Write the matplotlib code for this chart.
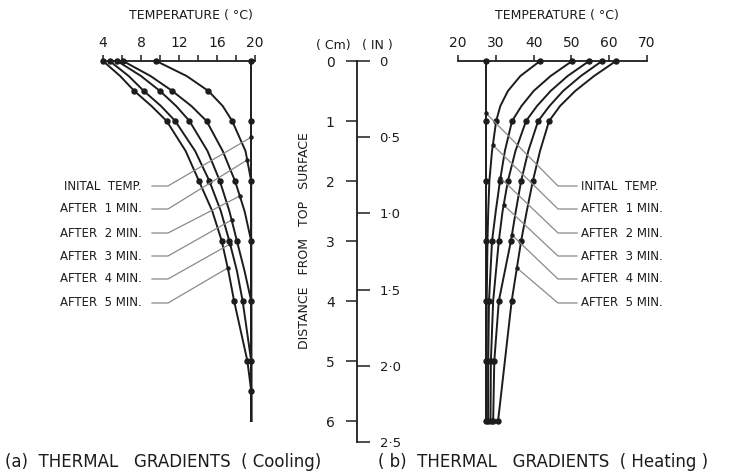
import numpy as np
import matplotlib
matplotlib.use("Agg")
from matplotlib import pyplot as plt
from matplotlib.lines import Line2D

W, H = 734, 476

# (a) cooling: depth (cm) vs temperature (deg C)
cool_depth = [0, 0.25, 0.5, 0.75, 1, 1.5, 2, 2.5, 3, 3.5, 4, 5, 5.5, 6]
cool_initial = 19.6
cool_after1 = [9.6, 12.8, 15.1, 16.6, 17.6, 19.0, 19.6, 19.6, 19.6, 19.6, 19.6, 19.6, 19.6, 19.6]
cool_after2 = [6.1, 9.0, 11.3, 13.3, 14.9, 16.6, 17.9, 18.9, 19.6, 19.6, 19.6, 19.6, 19.6, 19.6]
cool_after3 = [5.5, 8.0, 10.0, 11.7, 13.1, 15.0, 16.3, 17.3, 18.1, 18.9, 19.6, 19.6, 19.6, 19.6]
cool_after4 = [4.7, 6.7, 8.3, 10.1, 11.6, 13.7, 15.2, 16.4, 17.3, 18.1, 18.7, 19.6, 19.6, 19.6]
cool_after5 = [4.0, 5.8, 7.3, 9.1, 10.7, 12.7, 14.1, 15.5, 16.5, 17.2, 17.8, 19.2, 19.6, 19.6]
cool_mark_depth = [0, 0.5, 1, 2, 3, 4, 5, 5.5]
cool_mark_temp = [
    [4.0, 4.7, 5.5, 6.1, 9.6, 19.6],
    [7.3, 8.3, 10.0, 11.3, 15.1],
    [10.7, 11.6, 13.1, 14.9, 17.6, 19.6],
    [14.1, 15.2, 16.3, 17.9, 19.6],
    [16.5, 17.3, 18.1, 19.6],
    [17.8, 18.7, 19.6],
    [19.2, 19.6],
    [19.6],
]

# (b) heating
heat_depth = [0, 0.25, 0.5, 0.75, 1, 1.5, 2, 2.5, 3, 4, 5, 6]
heat_initial = 27.4
heat_after1 = [41.7, 36.5, 33.2, 31.2, 30.1, 29.0, 28.3, 28.0, 27.8, 27.6, 27.6, 27.6]
heat_after2 = [50.2, 44.5, 40.0, 36.8, 34.3, 32.4, 31.1, 30.0, 29.0, 28.2, 28.0, 28.0]
heat_after3 = [54.7, 49.0, 44.5, 40.9, 38.0, 35.2, 33.2, 31.8, 30.8, 29.3, 28.7, 28.6]
heat_after4 = [58.1, 52.5, 47.8, 44.2, 41.2, 38.6, 36.7, 35.3, 34.0, 30.8, 29.6, 29.3]
heat_after5 = [61.8, 56.0, 51.0, 47.0, 44.1, 41.7, 39.8, 38.2, 36.7, 34.2, 32.4, 30.6]
heat_mark_depth = [0, 1, 2, 3, 4, 5, 6]
heat_mark_temp = [
    [27.4, 41.7, 50.2, 54.7, 58.1, 61.8],
    [27.4, 30.1, 34.3, 38.0, 41.2, 44.1],
    [27.4, 31.1, 33.2, 36.7, 39.8],
    [27.4, 29.0, 30.8, 34.0, 36.7],
    [27.4, 28.2, 30.8, 34.2],
    [27.4, 28.0, 28.7, 29.6],
    [27.4, 28.0, 28.6, 29.3, 30.6],
]

curve_labels = ["INITAL  TEMP.", "AFTER  1 MIN.", "AFTER  2 MIN.",
                "AFTER  3 MIN.", "AFTER  4 MIN.", "AFTER  5 MIN."]
label_rows = [186, 209, 233, 256, 279, 303]          # pixel rows of the labels
cool_leader_depth = [1.27, 1.65, 2.25, 2.65, 3.05, 3.45]
heat_leader_depth = [0.87, 1.4, 1.95, 2.4, 2.9, 3.45]

cm_ticks = [0, 1, 2, 3, 4, 5, 6]
in_ticks = [0, 0.5, 1.0, 1.5, 2.0, 2.5]
in_labels = ["0", "0·5", "1·0", "1·5", "2·0", "2·5"]

INK = "#1c1c1c"
GREY = "#8a8a8a"

plt.rcParams["font.family"] = ["DejaVu Sans"]
fig = plt.figure(figsize=(W / 100, H / 100), dpi=100)


def fx(px):
    return px / W


def fy(py):
    return 1 - py / H


y0, hh = fy(442), 381 / H


def panel(left, width, xlim, major, minor):
    ax = fig.add_axes([fx(left), y0, fx(width), hh])
    ax.set_xlim(*xlim)
    ax.set_ylim(6.35, 0)
    ax.patch.set_alpha(0)
    for s in ["left", "right", "bottom"]:
        ax.spines[s].set_visible(False)
    ax.spines["top"].set_linewidth(1.3)
    ax.spines["top"].set_color(INK)
    ax.set_yticks([])
    ax.xaxis.tick_top()
    ax.set_xticks(major)
    ax.set_xticks(minor, minor=True)
    ax.tick_params(axis="x", which="both", direction="out", length=4,
                   width=1.1, color=INK, labelsize=10, pad=4, labelcolor=INK)
    return ax


ax1 = panel(103, 152, (4, 20), [4, 8, 12, 16, 20], [6, 10, 14, 18])
ax2 = panel(458, 189, (20, 70), [20, 30, 40, 50, 60, 70], [])

cool_series = [cool_after1, cool_after2, cool_after3, cool_after4, cool_after5]
heat_series = [heat_after1, heat_after2, heat_after3, heat_after4, heat_after5]

for ax, depth, init, series, mdepth, mtemp in [
        (ax1, cool_depth, cool_initial, cool_series, cool_mark_depth, cool_mark_temp),
        (ax2, heat_depth, heat_initial, heat_series, heat_mark_depth, heat_mark_temp)]:
    ax.plot([init, init], [0, 6], color=INK, lw=1.4, clip_on=False)
    for s in series:
        ax.plot(s, depth, color=INK, lw=1.4, clip_on=False)
    for d, temps in zip(mdepth, mtemp):
        ax.plot(temps, [d] * len(temps), "o", ms=3.6, color=INK, clip_on=False)

# centre depth scale
axc = fig.add_axes([fx(357), y0, 0.0005, hh])
axc.set_ylim(6.35, 0)
axc.patch.set_alpha(0)
for s in ["top", "bottom", "right"]:
    axc.spines[s].set_visible(False)
axc.spines["left"].set_linewidth(1.3)
axc.spines["left"].set_color(INK)
axc.set_xticks([])
axc.set_yticks(cm_ticks)
axc.tick_params(axis="y", direction="out", length=8, width=1.1, pad=8,
                labelsize=10, color=INK, labelcolor=INK)
sec = axc.secondary_yaxis("right", functions=(lambda d: d / 2.54, lambda i: i * 2.54))
sec.set_yticks(in_ticks, labels=in_labels)
sec.spines["right"].set_visible(False)
sec.tick_params(direction="out", length=9, width=1.1, pad=7, labelsize=9.5,
                color=INK, labelcolor=INK)

fig.text(fx(351), fy(45), "( Cm)", ha="right", va="center", fontsize=9, color=INK)
fig.text(fx(362), fy(45), "( IN )", ha="left", va="center", fontsize=9, color=INK)
fig.text(fx(304), fy(241), "DISTANCE   FROM   TOP   SURFACE", rotation=90,
         ha="center", va="center", fontsize=9, color=INK)

fig.text(fx(191), fy(15), "TEMPERATURE ( °C)", ha="center", va="center",
         fontsize=9, color=INK)
fig.text(fx(557), fy(15), "TEMPERATURE ( °C)", ha="center", va="center",
         fontsize=9, color=INK)

fig.text(fx(5), fy(462), "(a)  THERMAL   GRADIENTS  ( Cooling)", ha="left",
         va="center", fontsize=12, color=INK)
fig.text(fx(378), fy(462), "( b)  THERMAL   GRADIENTS  ( Heating )", ha="left",
         va="center", fontsize=12, color=INK)

# labels with leader lines
to_fig = fig.transFigure.inverted()
for i, (txt, row) in enumerate(zip(curve_labels, label_rows)):
    # cooling side
    fig.text(fx(142), fy(row), txt, ha="right", va="center", fontsize=8.5, color=INK)
    if i == 0:
        t = cool_initial
    else:
        t = np.interp(cool_leader_depth[i], cool_depth, cool_series[i - 1])
    ex, ey = to_fig.transform(ax1.transData.transform((t, cool_leader_depth[i])))
    fig.add_artist(Line2D([fx(152), fx(168), ex], [fy(row), fy(row), ey],
                          color=GREY, lw=0.9, transform=fig.transFigure))
    fig.add_artist(Line2D([ex], [ey], marker="o", ms=2.2, color=INK,
                          transform=fig.transFigure))

    # heating side
    fig.text(fx(581), fy(row), txt, ha="left", va="center", fontsize=8.5, color=INK)
    if i == 0:
        t = heat_initial
    else:
        t = np.interp(heat_leader_depth[i], heat_depth, heat_series[i - 1])
    ex, ey = to_fig.transform(ax2.transData.transform((t, heat_leader_depth[i])))
    fig.add_artist(Line2D([fx(577), fx(558), ex], [fy(row), fy(row), ey],
                          color=GREY, lw=0.9, transform=fig.transFigure))
    fig.add_artist(Line2D([ex], [ey], marker="o", ms=2.2, color=INK,
                          transform=fig.transFigure))

fig.savefig("out.png", dpi=100, facecolor="white")
